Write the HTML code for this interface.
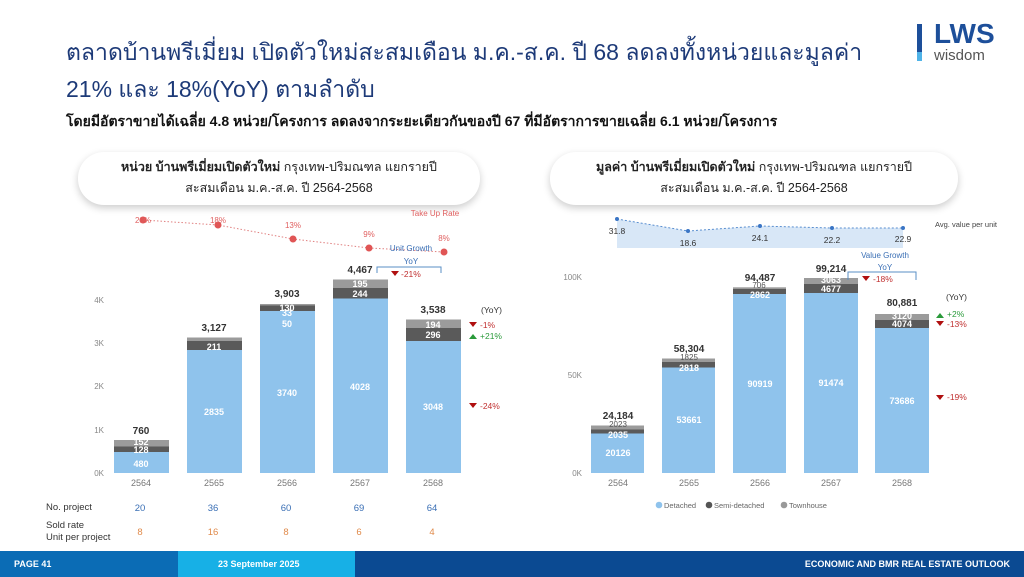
<!DOCTYPE html><html><head><meta charset="utf-8"><style>
body{margin:0;width:1024px;height:577px;overflow:hidden;background:#fff;font-family:"Liberation Sans","Noto Sans CJK SC",sans-serif;position:relative}
.t{position:absolute;white-space:nowrap}
.pill{position:absolute;background:#fff;border-radius:26px;box-shadow:0 3px 8px rgba(0,0,0,.2);text-align:center;font-size:12.5px;line-height:21px;color:#222;padding-top:5px}
</style></head><body>
<div class="t" style="left:66px;top:35px;font-size:23px;color:#1d3a78">ตลาดบ้านพรีเมี่ยม เปิดตัวใหม่สะสมเดือน ม.ค.-ส.ค. ปี 68 ลดลงทั้งหน่วยและมูลค่า</div>
<div class="t" style="left:66px;top:72px;font-size:23px;color:#1d3a78">21% และ 18%(YoY) ตามลำดับ</div>
<div class="t" style="left:66px;top:111px;font-size:14px;font-weight:bold;color:#111">โดยมีอัตราขายได้เฉลี่ย 4.8 หน่วย/โครงการ ลดลงจากระยะเดียวกันของปี 67 ที่มีอัตราการขายเฉลี่ย 6.1 หน่วย/โครงการ</div>
<div style="position:absolute;left:917px;top:24px;width:5px;height:28px;background:#1d4f9a"></div>
<div style="position:absolute;left:917px;top:52px;width:5px;height:9px;background:#4fb3e8"></div>
<div class="t" style="left:934px;top:18px;font-size:28px;font-weight:bold;color:#1d4f9a">LWS</div>
<div class="t" style="left:934px;top:47px;font-size:15px;color:#555">wisdom</div>
<div class="pill" style="left:78px;top:152px;width:402px;height:48px"><b>หน่วย บ้านพรีเมี่ยมเปิดตัวใหม่</b> กรุงเทพ-ปริมณฑล แยกรายปี<br>สะสมเดือน ม.ค.-ส.ค. ปี 2564-2568</div>
<div class="pill" style="left:550px;top:152px;width:408px;height:48px"><b>มูลค่า บ้านพรีเมี่ยมเปิดตัวใหม่</b> กรุงเทพ-ปริมณฑล แยกรายปี<br>สะสมเดือน ม.ค.-ส.ค. ปี 2564-2568</div>
<svg width="1024" height="577" style="position:absolute;left:0;top:0" font-family="Liberation Sans,sans-serif">
<g font-size="8" fill="#888" text-anchor="end"><text x="104" y="476">0K</text><text x="104" y="433">1K</text><text x="104" y="389">2K</text><text x="104" y="346">3K</text><text x="104" y="303">4K</text></g>
<g>
<rect x="114" y="452" width="55" height="21" fill="#8fc3ec"/><rect x="114" y="446.5" width="55" height="5.5" fill="#5a5a5a"/><rect x="114" y="440" width="55" height="6.5" fill="#9b9b9b"/>
<rect x="187" y="350" width="55" height="123" fill="#8fc3ec"/><rect x="187" y="341" width="55" height="9" fill="#5a5a5a"/><rect x="187" y="337.5" width="55" height="3.5" fill="#9b9b9b"/>
<rect x="260" y="311" width="55" height="162" fill="#8fc3ec"/><rect x="260" y="305.5" width="55" height="5.5" fill="#5a5a5a"/><rect x="260" y="304" width="55" height="1.5" fill="#9b9b9b"/>
<rect x="333" y="298.5" width="55" height="174.5" fill="#8fc3ec"/><rect x="333" y="288" width="55" height="10.5" fill="#5a5a5a"/><rect x="333" y="279.5" width="55" height="8.5" fill="#9b9b9b"/>
<rect x="406" y="341" width="55" height="132" fill="#8fc3ec"/><rect x="406" y="328" width="55" height="13" fill="#5a5a5a"/><rect x="406" y="319.5" width="55" height="8.5" fill="#9b9b9b"/>
</g>
<g font-size="9" fill="#fff" font-weight="bold" text-anchor="middle">
<text x="141" y="467">480</text><text x="141" y="453">128</text><text x="141" y="445">152</text>
<text x="214" y="415">2835</text><text x="214" y="350">211</text>
<text x="287" y="396">3740</text><text x="287" y="327">50</text><text x="287" y="316">33</text><text x="287" y="311">130</text>
<text x="360" y="390">4028</text><text x="360" y="297">244</text><text x="360" y="287">195</text>
<text x="433" y="410">3048</text><text x="433" y="338">296</text><text x="433" y="328">194</text>
</g>
<g font-size="10" fill="#333" font-weight="bold" text-anchor="middle">
<text x="141" y="434">760</text><text x="214" y="331">3,127</text><text x="287" y="297">3,903</text><text x="360" y="273">4,467</text><text x="433" y="313">3,538</text></g>
<g font-size="9" fill="#777" text-anchor="middle"><text x="141" y="486">2564</text><text x="214" y="486">2565</text><text x="287" y="486">2566</text><text x="360" y="486">2567</text><text x="433" y="486">2568</text></g>
<polyline points="143,220 218,225 293,239 369,248 444,252" fill="none" stroke="#e08080" stroke-dasharray="1.5,2"/>
<g fill="#e05555"><circle cx="143" cy="220" r="3.5"/><circle cx="218" cy="225" r="3.5"/><circle cx="293" cy="239" r="3.5"/><circle cx="369" cy="248" r="3.5"/><circle cx="444" cy="252" r="3.5"/></g>
<g font-size="8" fill="#e06060" text-anchor="middle"><text x="143" y="223">20%</text><text x="218" y="223">18%</text><text x="293" y="228">13%</text><text x="369" y="237">9%</text><text x="444" y="241">8%</text><text x="435" y="216">Take Up Rate</text></g>
<text x="411" y="251" font-size="8" fill="#3a6fb5" text-anchor="middle">Unit Growth</text><text x="411" y="264" font-size="8" fill="#3a6fb5" text-anchor="middle">YoY</text>
<polyline points="377,273 377,267 441,267 441,273" fill="none" stroke="#5a8fc5"/>
<g font-size="8.5"><path d="M391 271h8l-4 5z" fill="#b01010"/><text x="401" y="277" fill="#c03030">-21%</text>
<text x="481" y="313" fill="#333">(YoY)</text>
<path d="M469 322h8l-4 5z" fill="#b01010"/><text x="480" y="328" fill="#c03030">-1%</text>
<path d="M469 339h8l-4-5z" fill="#2a9a3a"/><text x="480" y="339" fill="#2a9a3a">+21%</text>
<path d="M469 403h8l-4 5z" fill="#b01010"/><text x="480" y="409" fill="#c03030">-24%</text></g>
<g font-size="9.5"><text x="46" y="510" fill="#333">No. project</text><text x="46" y="528" fill="#333">Sold rate</text><text x="46" y="540" fill="#333">Unit per project</text>
<g text-anchor="middle" fill="#3a6fb5"><text x="140" y="511">20</text><text x="213" y="511">36</text><text x="286" y="511">60</text><text x="359" y="511">69</text><text x="432" y="511">64</text></g>
<g text-anchor="middle" fill="#e08a4a"><text x="140" y="535">8</text><text x="213" y="535">16</text><text x="286" y="535">8</text><text x="359" y="535">6</text><text x="432" y="535">4</text></g></g>
<polygon points="617,219 688,231 760,226 832,228 903,228 903,248 617,248" fill="#d8e7f7"/>
<polyline points="617,219 688,231 760,226 832,228 903,228" fill="none" stroke="#5a8fd0" stroke-dasharray="2,2"/>
<g fill="#3a75c5"><circle cx="617" cy="219" r="2"/><circle cx="688" cy="231" r="2"/><circle cx="760" cy="226" r="2"/><circle cx="832" cy="228" r="2"/><circle cx="903" cy="228" r="2"/></g>
<g font-size="8.5" fill="#333" text-anchor="middle"><text x="617" y="234">31.8</text><text x="688" y="246">18.6</text><text x="760" y="241">24.1</text><text x="832" y="243">22.2</text><text x="903" y="242">22.9</text></g>
<text x="935" y="227" font-size="7.5" fill="#444">Avg. value per unit</text>
<g font-size="8" fill="#888" text-anchor="end"><text x="582" y="476">0K</text><text x="582" y="378">50K</text><text x="582" y="280">100K</text></g>
<rect x="591" y="433.5" width="53" height="39.5" fill="#8fc3ec"/><rect x="591" y="429.5" width="53" height="4" fill="#5a5a5a"/><rect x="591" y="425.5" width="53" height="4" fill="#9b9b9b"/>
<rect x="662" y="367.5" width="53" height="105.5" fill="#8fc3ec"/><rect x="662" y="362" width="53" height="5.5" fill="#5a5a5a"/><rect x="662" y="358.5" width="53" height="3.5" fill="#9b9b9b"/>
<rect x="733" y="294" width="53" height="179" fill="#8fc3ec"/><rect x="733" y="288.7" width="53" height="5.3" fill="#5a5a5a"/><rect x="733" y="287.3" width="53" height="1.4" fill="#9b9b9b"/>
<rect x="804" y="293" width="54" height="180" fill="#8fc3ec"/><rect x="804" y="284" width="54" height="9" fill="#5a5a5a"/><rect x="804" y="278" width="54" height="6" fill="#9b9b9b"/>
<rect x="875" y="328" width="54" height="145" fill="#8fc3ec"/><rect x="875" y="320" width="54" height="8" fill="#5a5a5a"/><rect x="875" y="314" width="54" height="6" fill="#9b9b9b"/>
<g font-size="9" fill="#fff" font-weight="bold" text-anchor="middle">
<text x="618" y="456">20126</text><text x="618" y="438">2035</text><text x="689" y="423">53661</text><text x="689" y="371">2818</text>
<text x="760" y="387">90919</text><text x="760" y="298">2862</text><text x="831" y="386">91474</text><text x="831" y="292">4677</text><text x="831" y="283">3063</text>
<text x="902" y="404">73686</text><text x="902" y="327">4074</text><text x="902" y="319">3120</text></g>
<g font-size="8" fill="#555" text-anchor="middle"><text x="618" y="427">2023</text><text x="689" y="360">1825</text><text x="759" y="288">706</text></g>
<g font-size="10" fill="#333" font-weight="bold" text-anchor="middle"><text x="618" y="419">24,184</text><text x="689" y="352">58,304</text><text x="760" y="281">94,487</text><text x="831" y="272">99,214</text><text x="902" y="306">80,881</text></g>
<g font-size="9" fill="#777" text-anchor="middle"><text x="618" y="486">2564</text><text x="689" y="486">2565</text><text x="760" y="486">2566</text><text x="831" y="486">2567</text><text x="902" y="486">2568</text></g>
<text x="885" y="258" font-size="8" fill="#3a6fb5" text-anchor="middle">Value Growth</text><text x="885" y="270" font-size="8" fill="#3a6fb5" text-anchor="middle">YoY</text>
<polyline points="848,280 848,272 916,272 916,280" fill="none" stroke="#5a8fc5"/>
<g font-size="8.5"><path d="M862 276h8l-4 5z" fill="#b01010"/><text x="873" y="282" fill="#c03030">-18%</text>
<text x="946" y="300" fill="#333">(YoY)</text>
<path d="M936 318h8l-4-5z" fill="#2a9a3a"/><text x="947" y="317" fill="#2a9a3a">+2%</text>
<path d="M936 321h8l-4 5z" fill="#b01010"/><text x="947" y="327" fill="#c03030">-13%</text>
<path d="M936 395h8l-4 5z" fill="#b01010"/><text x="947" y="400" fill="#c03030">-19%</text></g>
<g font-size="7.5" fill="#666"><circle cx="659" cy="505" r="3.3" fill="#8fc3ec"/><text x="664" y="508">Detached</text><circle cx="709" cy="505" r="3.3" fill="#555"/><text x="714" y="508">Semi-detached</text><circle cx="784" cy="505" r="3.3" fill="#999"/><text x="789" y="508">Townhouse</text></g>
<rect x="0" y="551" width="178" height="26" fill="#0b6cb5"/><rect x="178" y="551" width="177" height="26" fill="#17b0e6"/><rect x="355" y="551" width="669" height="26" fill="#0b4a92"/>
<g font-size="9" fill="#fff" font-weight="bold"><text x="14" y="567">PAGE 41</text><text x="218" y="567">23 September 2025</text><text x="1010" y="567" text-anchor="end">ECONOMIC AND BMR REAL ESTATE OUTLOOK</text></g>
</svg>
</body></html>
